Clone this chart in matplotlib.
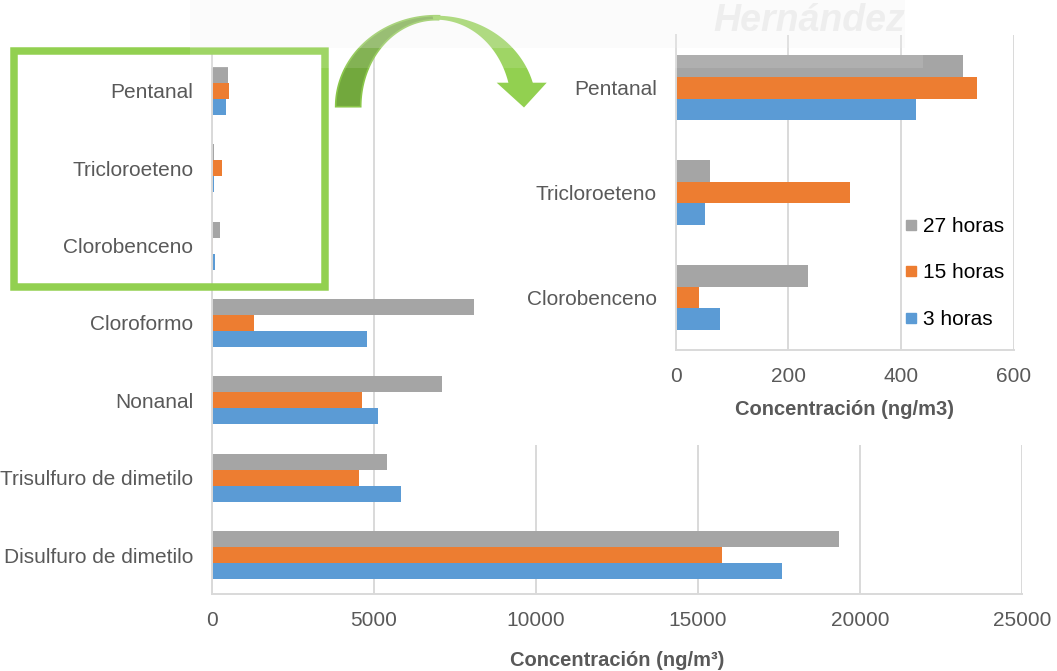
import numpy as np
import matplotlib
matplotlib.use("Agg")
import matplotlib.pyplot as plt
from matplotlib.patches import Rectangle, Polygon
from matplotlib.lines import Line2D

plt.rcParams['font.family'] = ['Liberation Sans', 'DejaVu Sans']

# ---- data -------------------------------------------------------------
compounds = ["Disulfuro de dimetilo", "Trisulfuro de dimetilo", "Nonanal",
             "Cloroformo", "Clorobenceno", "Tricloroeteno", "Pentanal"]
h3 = [17590, 5830, 5125, 4775, 78, 52, 427]
h15 = [15740, 4530, 4630, 1290, 41, 309, 534]
h27 = [19350, 5400, 7090, 8085, 234, 60, 509]

zoom_compounds = ["Clorobenceno", "Tricloroeteno", "Pentanal"]
zoom_h3 = [78, 52, 427]
zoom_h15 = [41, 309, 534]
zoom_h27 = [234, 60, 509]

series_labels = ["3 horas", "15 horas", "27 horas"]
main_ticks = [0, 5000, 10000, 15000, 20000, 25000]
zoom_ticks = [0, 200, 400, 600]

# ---- styling ----------------------------------------------------------
W, H = 1057, 671
C_BLUE, C_ORANGE, C_GRAY = "#5B9BD5", "#ED7D31", "#A5A5A5"
TXT = "#595959"
GRID = "#D9D9D9"
GREEN = "#92D050"
FS = 15


def fx(x):
    return x / W


def fy(y):
    return 1 - y / H


fig = plt.figure(figsize=(W / 100, H / 100), dpi=100)


def grouped_bars(ax, names, s3, s15, s27, xmax, ticks, xlabel, labelpad):
    y = np.arange(len(names))
    bh = 0.207
    ax.barh(y - bh, s3, height=bh, color=C_BLUE, label=series_labels[0])
    ax.barh(y, s15, height=bh, color=C_ORANGE, label=series_labels[1])
    ax.barh(y + bh, s27, height=bh, color=C_GRAY, label=series_labels[2])
    ax.set_ylim(-0.5, len(names) - 0.5)
    ax.set_xlim(0, xmax)
    ax.set_yticks(y)
    ax.set_yticklabels(names)
    ax.set_xticks(ticks)
    ax.tick_params(axis="both", length=0, labelsize=FS, labelcolor=TXT)
    ax.tick_params(axis="y", pad=13.5)
    ax.tick_params(axis="x", pad=12.5)
    ax.xaxis.grid(True, color=GRID, linewidth=1.4)
    ax.set_axisbelow(True)
    for side in ("top", "right"):
        ax.spines[side].set_visible(False)
    for side in ("left", "bottom"):
        ax.spines[side].set_color(GRID)
        ax.spines[side].set_linewidth(1.4)
    ax.set_xlabel(xlabel, fontsize=14.5, fontweight="bold", color=TXT,
                  labelpad=labelpad)


# main chart
ax = fig.add_axes([fx(212), fy(594), (1022 - 212) / W, (594 - 52) / H])
grouped_bars(ax, compounds, h3, h15, h27, 25000, main_ticks,
             "Concentración (ng/m³)", 15)

# white panel behind the zoomed chart
fig.patches.append(Rectangle((fx(505), fy(445)), (W - 505) / W, 445 / H,
                             transform=fig.transFigure, facecolor="white",
                             edgecolor="none", zorder=1))

# zoomed chart of the three smallest compounds
axz = fig.add_axes([fx(675.7), fy(350), (1014 - 675.7) / W, (350 - 35.2) / H])
axz.set_zorder(2)
grouped_bars(axz, zoom_compounds, zoom_h3, zoom_h15, zoom_h27, 600, zoom_ticks,
             "Concentración (ng/m3)", 10)
handles = [Line2D([], [], marker="s", linestyle="none", markersize=7.5,
                  markerfacecolor=c, markeredgecolor=c)
           for c in (C_GRAY, C_ORANGE, C_BLUE)]
axz.legend(handles, ["27 horas", "15 horas", "3 horas"], loc="upper left",
           bbox_to_anchor=(fx(905), fy(217)), bbox_transform=fig.transFigure,
           frameon=False, fontsize=FS, labelcolor="black", handlelength=0.6,
           handletextpad=0.25, labelspacing=1.32, borderpad=0, borderaxespad=0)

# green frame around the magnified region
fig.patches.append(Rectangle((fx(13.5), fy(287)), (324.5 - 13.5) / W, (287 - 51) / H,
                             transform=fig.transFigure, facecolor="none",
                             edgecolor=GREEN, linewidth=5.4, zorder=5))

# curved arrow pointing to the magnified chart
cx, cy = 436.0, 106.7
rox, roy = 100.3, 91.0
rix, riy = 75.3, 87.0


def band(t0, t1):
    t = np.radians(np.linspace(t0, t1, 80))
    outer = np.column_stack([cx + rox * np.cos(t), cy - roy * np.sin(t)])
    inner = np.column_stack([cx + rix * np.cos(t[::-1]), cy - riy * np.sin(t[::-1])])
    pts = np.vstack([outer, inner])
    return np.column_stack([fx(pts[:, 0]), fy(pts[:, 1])])


fig.patches.append(Polygon(band(180, 88), closed=True, transform=fig.transFigure,
                           facecolor="#72A83D", edgecolor="#8AC64A", linewidth=1.2,
                           zorder=6))
fig.patches.append(Polygon(band(92, 14.5), closed=True, transform=fig.transFigure,
                           facecolor=GREEN, edgecolor="none", zorder=7))
head = np.array([[496.7, 82.7], [546.7, 82.7], [524.0, 107.5]])
fig.patches.append(Polygon(np.column_stack([fx(head[:, 0]), fy(head[:, 1])]),
                           closed=True, transform=fig.transFigure,
                           facecolor=GREEN, edgecolor="none", zorder=7))

# faint author watermark across the top
fig.patches.append(Rectangle((fx(190), fy(48)), (905 - 190) / W, 48 / H,
                             transform=fig.transFigure, facecolor="#F4F4F4",
                             edgecolor="none", alpha=0.3, zorder=8))
fig.patches.append(Rectangle((fx(190), fy(68)), (923 - 190) / W, 20 / H,
                             transform=fig.transFigure, facecolor="white",
                             edgecolor="none", alpha=0.12, zorder=8))
fig.text(fx(905), fy(31), "Hernández", ha="right", va="baseline",
         fontsize=27, fontweight="bold", style="italic", color="#EBEBEB",
         alpha=0.8, zorder=9)

fig.savefig("out.png", dpi=100)
